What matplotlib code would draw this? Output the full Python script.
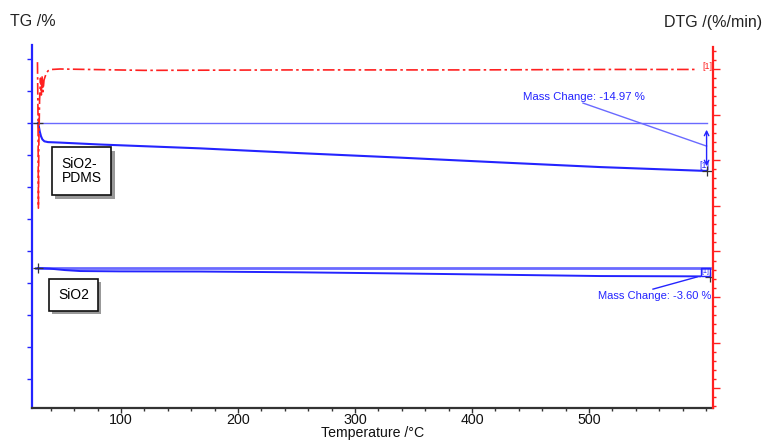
import numpy as np
import matplotlib.pyplot as plt
import matplotlib.patheffects as pe
from matplotlib.patches import Rectangle


# ============================================================
# DATA (read from the TG / DTG printout)
# ============================================================

# SiO2-PDMS, TG curve
pdms_temp = [29.1, 29.8, 30.6, 31.6, 32.8, 34.5, 37.6, 47.9, 82.1, 167.5,
             253.0, 338.5, 424.0, 509.4, 600.9]
pdms_tg = [100.0, 98.9, 97.3, 95.9, 94.9, 94.3, 94.05, 93.9, 93.3, 92.1,
           90.6, 89.2, 87.7, 86.25, 85.03]

# SiO2, TG curve (plotted with its own offset on the TG axis)
sio2_temp = [29.1, 39.3, 52.1, 65.0, 99.0, 167.5, 253.0, 338.5, 424.0,
             509.4, 594.9]
sio2_tg = [54.69, 54.5, 54.05, 53.75, 53.65, 53.6, 53.35, 53.0, 52.6,
           52.19, 52.09]
sio2_ref = 54.69

# SiO2-PDMS, DTG curve
dtg_temp = [28.6, 29.1, 29.4, 29.7, 30.4, 31.2, 31.9, 32.5, 33.3, 34.2,
            35.9, 37.6, 41.0, 47.9, 120.0, 250.0, 400.0, 520.0, 591.0]
dtg_val = [0.15, -1.12, -3.05, -1.78, -0.68, -0.20, -0.57, -0.15, -0.50,
           -0.24, -0.11, -0.04, -0.01, 0.0, -0.03, -0.02, -0.02, -0.01,
           -0.01]

x_major = [100, 200, 300, 400, 500]
tg_ticks = [20, 30, 40, 50, 60, 70, 80, 90, 100, 110, 120]

pdms_change = "Mass Change: -14.97 %"
sio2_change = "Mass Change: -3.60 %"


# ============================================================
# CONFIGURATION
# ============================================================

BLUE = "#2424ff"
BLUE_LIGHT = "#6a6aff"
RED = "#ff2020"
FONT = "Liberation Sans"

X_LIM = (23.9, 606.0)
TG_LIM = (10.94, 124.4)
DTG_LIM = (-7.434, 0.526)

plt.rcParams["font.family"] = [FONT, "DejaVu Sans"]


# ============================================================
# FIGURE
# ============================================================

fig = plt.figure(figsize=(7.63, 4.40), dpi=100)
ax = fig.add_axes([0.0419, 0.0727, 0.8926, 0.825])
ax2 = ax.twinx()

ax.set_xlim(*X_LIM)
ax.set_ylim(*TG_LIM)
ax2.set_ylim(*DTG_LIM)

for a in (ax, ax2):
    a.spines["top"].set_visible(False)
    a.patch.set_visible(False)

ax.spines["left"].set_color(BLUE)
ax.spines["left"].set_linewidth(1.6)
ax.spines["right"].set_visible(False)
ax.spines["bottom"].set_color("#333333")
ax.spines["bottom"].set_linewidth(1.6)

ax2.spines["left"].set_visible(False)
ax2.spines["bottom"].set_visible(False)
ax2.spines["right"].set_color(RED)
ax2.spines["right"].set_linewidth(1.6)
ax2.spines["right"].set_bounds(DTG_LIM[0], 0.48)

# x axis ticks
ax.set_xticks(x_major)
ax.set_xticks(np.arange(40, 601, 20), minor=True)
ax.tick_params(axis="x", which="major", direction="out", length=3.5,
               width=1, color="#333333", labelsize=10.3, pad=0,
               labelcolor="#111111")
ax.tick_params(axis="x", which="minor", direction="out", length=2.5,
               width=1, color="#333333")

# TG axis: ticks only
ax.set_yticks(tg_ticks)
ax.set_yticklabels([])
ax.tick_params(axis="y", which="major", direction="out", length=3.5,
               width=1, color=BLUE)

# DTG axis: ticks only
ax2.set_yticks(np.arange(-7, 0.5, 1))
ax2.set_yticks(np.arange(-7.4, 0.45, 0.2), minor=True)
ax2.set_yticklabels([])
ax2.tick_params(axis="y", which="major", direction="out", length=5,
                width=1, color=RED)
ax2.tick_params(axis="y", which="minor", direction="out", length=2.5,
                width=1, color=RED)

ax.set_xlabel("Temperature /°C", fontsize=10.2, color="#111111",
              va="bottom")
ax.xaxis.set_label_coords(0.5, -0.0878)

fig.text(0.013, 0.95, "TG /%", fontsize=11.5, ha="left", va="center",
         color="#222222")
fig.text(0.999, 0.95, "DTG /(%/min)", fontsize=11.5, ha="right",
         va="center", color="#222222")


# ============================================================
# CURVES
# ============================================================

# reference levels
ax.plot([X_LIM[0], pdms_temp[-1]], [pdms_tg[0], pdms_tg[0]],
        color=BLUE_LIGHT, lw=1.0, zorder=2)
ax.plot([27.0, 603.4], [sio2_ref, sio2_ref],
        color=BLUE_LIGHT, lw=2.0, zorder=2)

ax.plot(pdms_temp, pdms_tg, color=BLUE, lw=1.5, zorder=3)
ax.plot(sio2_temp, sio2_tg, color=BLUE, lw=1.4, zorder=3)

ax2.plot(dtg_temp, dtg_val, color=RED, lw=1.2,
         linestyle=(0, (7, 2, 1.5, 2)), zorder=3)

# start / end markers
ax.plot([pdms_temp[0], pdms_temp[-1]], [pdms_tg[0], pdms_tg[-1]],
        marker="+", ms=7, mew=0.9, ls="none", color="#333333", zorder=4)
ax.plot([sio2_temp[0], 603.4], [sio2_tg[0], sio2_tg[-1] - 0.3],
        marker="+", ms=7, mew=0.9, ls="none", color="#333333", zorder=4)

ax2.text(601.5, dtg_val[-1] + 0.07, "[1]", fontsize=6.5, color=RED,
         ha="center", va="center")
ax.text(599, pdms_tg[-1] + 1.7, "[1]", fontsize=6.5, color=BLUE,
        ha="center", va="center")
ax.add_patch(Rectangle((595.5, sio2_tg[-1]), 7.5, sio2_ref - sio2_tg[-1],
                       fill=False, edgecolor=BLUE, lw=1.0, zorder=4))
ax.text(599.3, 53.5, "[1]", fontsize=5, color=BLUE, ha="center",
        va="center", zorder=5)


# ============================================================
# MASS CHANGE ANNOTATIONS
# ============================================================

ax.annotate("", xy=(600.5, pdms_tg[-1] + 0.6), xytext=(600.5, 98.8),
            arrowprops=dict(arrowstyle="<->", color=BLUE, lw=1.0,
                            mutation_scale=8))

ax.text(495.7, 108.1, pdms_change, fontsize=8.2, color=BLUE,
        ha="center", va="center")
ax.plot([494.9, 600.5], [106.25, 92.8], color=BLUE_LIGHT, lw=1.0)

ax.text(556.5, 45.9, sio2_change, fontsize=8, color=BLUE,
        ha="center", va="center")
ax.plot([554.7, 592.3], [48.1, 51.9], color=BLUE, lw=1.0)


# ============================================================
# SAMPLE LABELS
# ============================================================

shadow = [pe.withSimplePatchShadow(offset=(2.5, -2.5), shadow_rgbFace="#555555",
                                   alpha=0.6)]

t1 = ax.text(66.2, 85.0, "SiO2-\nPDMS", fontsize=10, ha="center",
             va="center", linespacing=1.05, multialignment="left",
             bbox=dict(boxstyle="square,pad=0.7", facecolor="white",
                       edgecolor="#111111", lw=1.2), zorder=6)
t1.get_bbox_patch().set_path_effects(shadow)

t2 = ax.text(59.3, 46.4, "SiO2", fontsize=10, ha="center", va="center",
             bbox=dict(boxstyle="square,pad=0.65", facecolor="white",
                       edgecolor="#111111", lw=1.2), zorder=6)
t2.get_bbox_patch().set_path_effects(shadow)


# ============================================================
# SAVE FIGURE
# ============================================================

fig.savefig("out.png", dpi=100)
plt.close(fig)
